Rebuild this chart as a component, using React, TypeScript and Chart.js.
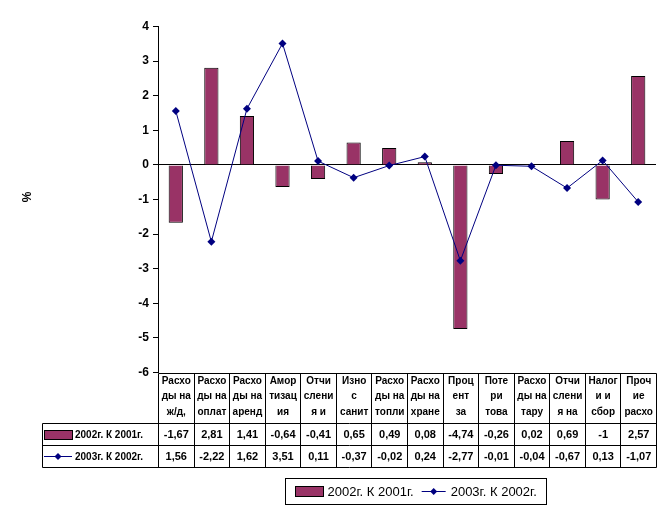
import React, { useEffect, useRef } from "react";
import { Chart, registerables } from "chart.js";

Chart.register(...registerables);

const categoryLines: string[][] = [
  ["Расхо", "ды на", "ж/д,"],
  ["Расхо", "ды на", "оплат"],
  ["Расхо", "ды на", "аренд"],
  ["Амор", "тизац", "ия"],
  ["Отчи", "слени", "я и"],
  ["Изно", "с", "санит"],
  ["Расхо", "ды на", "топли"],
  ["Расхо", "ды на", "хране"],
  ["Проц", "ент", "за"],
  ["Поте", "ри", "това"],
  ["Расхо", "ды на", "тару"],
  ["Отчи", "слени", "я на"],
  ["Налог", "и и", "сбор"],
  ["Проч", "ие", "расхо"],
];

const series2002: number[] = [-1.67, 2.81, 1.41, -0.64, -0.41, 0.65, 0.49, 0.08, -4.74, -0.26, 0.02, 0.69, -1, 2.57];
const series2003: number[] = [1.56, -2.22, 1.62, 3.51, 0.11, -0.37, -0.02, 0.24, -2.77, -0.01, -0.04, -0.67, 0.13, -1.07];

const seriesNames: string[] = ["2002г. К 2001г.", "2003г. К 2002г."];
const yAxisTitle = "%";
const yMin = -6;
const yMax = 4;
const yStep = 1;

const BAR_COLOR = "#993366";
const LINE_COLOR = "#000080";
const FONT = "'Liberation Sans', Arial, sans-serif";

function fmt(v: number): string {
  return String(v).replace(".", ",");
}

function diamond(ctx: CanvasRenderingContext2D, x: number, y: number, r: number) {
  ctx.beginPath();
  ctx.moveTo(x, y - r);
  ctx.lineTo(x + r, y);
  ctx.lineTo(x, y + r);
  ctx.lineTo(x - r, y);
  ctx.closePath();
  ctx.fill();
}

function hLine(ctx: CanvasRenderingContext2D, x1: number, x2: number, y: number) {
  ctx.beginPath();
  ctx.moveTo(x1, y);
  ctx.lineTo(x2, y);
  ctx.stroke();
}
function vLine(ctx: CanvasRenderingContext2D, x: number, y1: number, y2: number) {
  ctx.beginPath();
  ctx.moveTo(x, y1);
  ctx.lineTo(x, y2);
  ctx.stroke();
}

const tablePlugin = {
  id: "dataTable",
  afterDraw(chart: any) {
    const ctx: CanvasRenderingContext2D = chart.ctx;
    const xs = chart.scales.x;
    const area = chart.chartArea;
    const n = categoryLines.length;
    const step = xs.getPixelForValue(1) - xs.getPixelForValue(0);
    const left = xs.getPixelForValue(0) - step / 2;
    const right = xs.getPixelForValue(n - 1) + step / 2;
    const top = Math.round(area.bottom) + 0.5;
    const labelsBottom = 423.5;
    const row1Bottom = 445.5;
    const row2Bottom = 467.5;
    const tableLeft = 42.5;

    ctx.save();
    ctx.strokeStyle = "#000";
    ctx.lineWidth = 1;
    hLine(ctx, Math.round(left) + 0.5, Math.round(right) + 0.5, top);
    hLine(ctx, tableLeft, Math.round(right) + 0.5, labelsBottom);
    hLine(ctx, tableLeft, Math.round(right) + 0.5, row1Bottom);
    hLine(ctx, tableLeft, Math.round(right) + 0.5, row2Bottom);
    for (let i = 0; i <= n; i++) {
      const x = Math.round(left + i * step) + 0.5;
      vLine(ctx, x, top, row2Bottom);
    }
    vLine(ctx, tableLeft, labelsBottom, row2Bottom);

    // category labels
    ctx.fillStyle = "#000";
    ctx.textAlign = "center";
    ctx.textBaseline = "middle";
    ctx.font = `bold 10px ${FONT}`;
    for (let i = 0; i < n; i++) {
      const cx = xs.getPixelForValue(i) + 0.5;
      categoryLines[i].forEach((t, j) => {
        ctx.fillText(t, cx, 381 + j * 15.5);
      });
    }
    // values
    ctx.font = `bold 11px ${FONT}`;
    for (let i = 0; i < n; i++) {
      const cx = xs.getPixelForValue(i) + 0.5;
      ctx.fillText(fmt(series2002[i]), cx, 435);
      ctx.fillText(fmt(series2003[i]), cx, 457);
    }
    // legend keys in table
    ctx.fillStyle = BAR_COLOR;
    ctx.fillRect(44.5, 430.5, 28, 9);
    ctx.strokeRect(44.5, 430.5, 28, 9);
    ctx.strokeStyle = LINE_COLOR;
    hLine(ctx, 44, 72, 456.5);
    ctx.fillStyle = LINE_COLOR;
    diamond(ctx, 58, 456.5, 3.5);
    ctx.fillStyle = "#000";
    ctx.textAlign = "left";
    ctx.font = `bold 10px ${FONT}`;
    ctx.fillText(seriesNames[0], 75, 435);
    ctx.fillText(seriesNames[1], 75, 457);

    // y axis title
    ctx.save();
    ctx.translate(28, 197);
    ctx.rotate(-Math.PI / 2);
    ctx.font = `bold 12px ${FONT}`;
    ctx.textAlign = "center";
    ctx.fillText(yAxisTitle, 0, 0);
    ctx.restore();

    // bottom legend
    ctx.font = `13px ${FONT}`;
    const w1 = ctx.measureText(seriesNames[0]).width;
    const w2 = ctx.measureText(seriesNames[1]).width;
    const total = 10 + 28 + 4 + w1 + 8 + 24 + 5 + w2 + 10;
    const bx = Math.round(416 - total / 2) + 0.5;
    const by = 478.5;
    ctx.strokeStyle = "#000";
    ctx.strokeRect(bx, by, Math.round(total), 26);
    let x = bx + 10;
    ctx.fillStyle = BAR_COLOR;
    ctx.fillRect(x, 486.5, 28, 10);
    ctx.strokeRect(x, 486.5, 28, 10);
    x += 28 + 4;
    ctx.fillStyle = "#000";
    ctx.textBaseline = "middle";
    ctx.fillText(seriesNames[0], x, 492);
    x += w1 + 8;
    ctx.strokeStyle = LINE_COLOR;
    hLine(ctx, x, x + 24, 491.5);
    ctx.fillStyle = LINE_COLOR;
    diamond(ctx, x + 12, 491.5, 3.5);
    x += 24 + 5;
    ctx.fillStyle = "#000";
    ctx.fillText(seriesNames[1], x, 492);
    ctx.restore();
  },
};

export default function App() {
  const ref = useRef<HTMLCanvasElement | null>(null);
  useEffect(() => {
    document.body.style.margin = "0";
    const canvas = ref.current;
    if (!canvas) return;
    const labels = categoryLines.map((l) => l.join(" "));
    const chart = new Chart(canvas, {
      type: "bar",
      data: {
        labels,
        datasets: [
          {
            type: "line",
            label: seriesNames[1],
            data: series2003,
            borderColor: LINE_COLOR,
            backgroundColor: LINE_COLOR,
            borderWidth: 1,
            pointStyle: "rectRot",
            pointRadius: 4,
            pointBorderWidth: 0,
            order: 0,
          } as any,
          {
            type: "bar",
            label: seriesNames[0],
            data: series2002,
            backgroundColor: BAR_COLOR,
            borderColor: "#000",
            borderWidth: 1,
            categoryPercentage: 1,
            barPercentage: 0.4,
            order: 1,
          },
        ],
      },
      options: {
        responsive: false,
        animation: false,
        devicePixelRatio: 1,
        layout: { padding: { left: 98, right: 15, top: 26.5, bottom: 138.5 } },
        plugins: { legend: { display: false }, tooltip: { enabled: false } },
        scales: {
          x: { display: false, offset: true },
          y: {
            min: yMin,
            max: yMax,
            ticks: {
              stepSize: yStep,
              color: "#000",
              font: { family: FONT, size: 12, weight: "bold" },
              padding: 4,
            },
            grid: {
              color: (c: any) => (c.tick && c.tick.value === 0 ? "#000" : "rgba(0,0,0,0)"),
              tickColor: "#000",
              tickLength: 5,
              lineWidth: 1,
            },
            border: { display: true, color: "#000", width: 1 },
            afterFit: (scale: any) => {
              scale.width = 60;
            },
          },
        },
      },
      plugins: [tablePlugin],
    });
    return () => chart.destroy();
  }, []);
  return <canvas ref={ref} width={671} height={511} style={{ display: "block" }} />;
}
